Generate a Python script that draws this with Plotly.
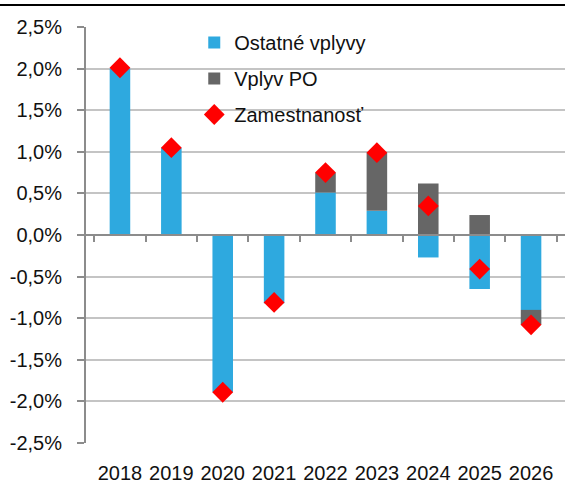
import plotly.graph_objects as go

years = ["2018", "2019", "2020", "2021", "2022", "2023", "2024", "2025", "2026"]
ostatne = [2.00, 1.05, -1.89, -0.82, 0.51, 0.29, -0.27, -0.65, -0.90]
vplyv_po = [0.00, 0.00, 0.00, 0.00, 0.24, 0.70, 0.62, 0.24, -0.18]
zamestnanost = [2.01, 1.05, -1.89, -0.81, 0.75, 0.99, 0.35, -0.41, -1.08]
y_ticks = [2.5, 2.0, 1.5, 1.0, 0.5, 0.0, -0.5, -1.0, -1.5, -2.0, -2.5]
y_labels = [("%.1f%%" % v).replace(".", ",") for v in y_ticks]

FONT = "Liberation Sans, Arial, sans-serif"
BLUE = "#2EA9DF"
GRAY = "#666666"
RED = "#FF0000"

fig = go.Figure()
fig.add_trace(go.Bar(x=years, y=ostatne, name="Ostatné vplyvy", legendgroup="a",
                     marker=dict(color=BLUE, line=dict(width=0)), width=0.4))
fig.add_trace(go.Bar(x=years, y=vplyv_po, name="Vplyv PO", legendgroup="b",
                     marker=dict(color=GRAY, line=dict(width=0)), width=0.4))
fig.add_trace(go.Scatter(x=years, y=zamestnanost, name="Zamestnanosť", mode="markers",
                         legendgroup="c",
                         marker=dict(symbol="diamond", color=RED, size=16, line=dict(width=0))))
# invisible trace to carry the zero-line axis
fig.add_trace(go.Scatter(x=years, y=[0]*len(years), xaxis="x2", mode="markers",
                         marker=dict(opacity=0), showlegend=False, hoverinfo="skip"))

fig.update_layout(
    width=576, height=483,
    margin=dict(l=86, r=11, t=27, b=40, autoexpand=False),
    paper_bgcolor="white", plot_bgcolor="white",
    barmode="relative", bargap=0.6,
    font=dict(family=FONT, size=20, color="#111111"),
    showlegend=True,
    legend=dict(x=0.226, y=1.0096, xanchor="left", yanchor="top",
                bgcolor="rgba(0,0,0,0)", font=dict(size=20, family=FONT),
                traceorder="grouped", tracegroupgap=7, itemwidth=30),
    xaxis=dict(type="category", showline=False, showgrid=False, ticks="",
               ticklabelstandoff=16, tickfont=dict(size=20, family=FONT),
               zeroline=False, automargin=False),
    xaxis2=dict(type="category", overlaying="x", matches="x", anchor="free", position=0.5,
                showline=True, linecolor="#8c8c8c", linewidth=2,
                ticks="outside", tickson="boundaries", ticklen=6, tickwidth=2,
                tickcolor="#8c8c8c", showticklabels=False, showgrid=False, zeroline=False,
                automargin=False),
    yaxis=dict(range=[-2.5, 2.5], tickvals=y_ticks, ticktext=y_labels,
               showgrid=True, gridcolor="#c4c4c4", gridwidth=2,
               showline=True, linecolor="#8c8c8c", linewidth=2,
               ticks="outside", ticklen=7, tickwidth=2, tickcolor="#8c8c8c",
               ticklabelstandoff=11, zeroline=False, automargin=False,
               tickfont=dict(size=20, family=FONT)),
)

fig.add_shape(type="line", xref="paper", yref="paper",
              x0=-86/479, x1=1.0, y0=(443-5)/416, y1=(443-5)/416,
              line=dict(color="black", width=2))

fig.write_html("out.html", config={"displayModeBar": False},
               post_script="document.body.style.margin='0px';document.body.style.overflow='hidden';")
